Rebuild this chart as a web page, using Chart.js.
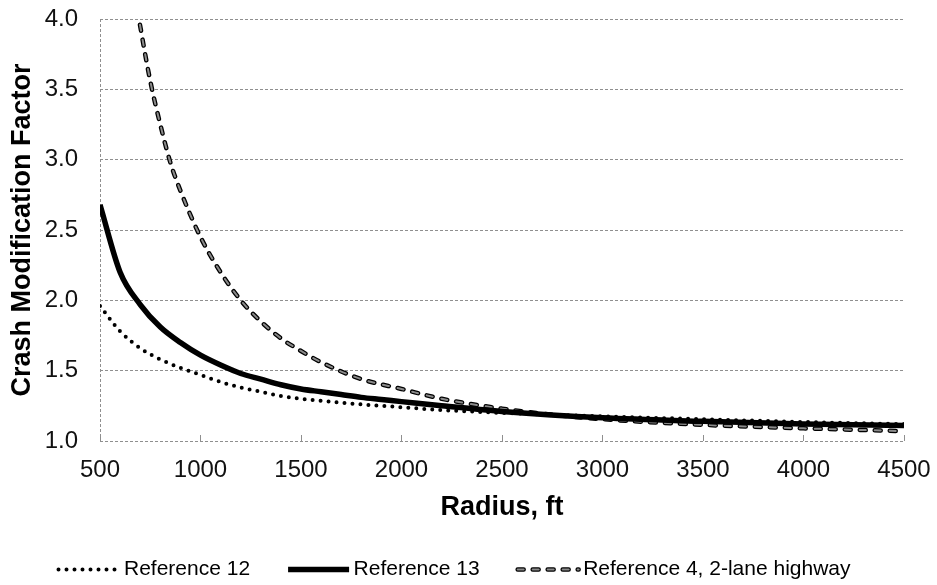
<!DOCTYPE html>
<html>
<head>
<title>Crash Modification Factor vs Radius</title>
<script src="https://cdn.jsdelivr.net/npm/chart.js"></script>
<style>
  html, body { margin: 0; padding: 0; overflow: hidden; background: #fff; }
  canvas { display: block; }
</style>
</head>
<body>
<canvas id="cmfChart" width="937" height="590"></canvas>
<script>
// values
const ref12Radius = [500, 600, 700, 800, 900, 1000, 1100, 1200, 1300, 1400, 1500, 1600, 1800, 2000, 2200, 2500, 3000, 3500, 4000, 4500];
const ref12Cmf    = [1.96, 1.78, 1.66, 1.58, 1.52, 1.47, 1.42, 1.38, 1.35, 1.32, 1.30, 1.285, 1.26, 1.24, 1.22, 1.20, 1.175, 1.155, 1.135, 1.12];

const ref13Radius = [500, 600, 700, 800, 900, 1000, 1100, 1200, 1300, 1400, 1500, 1600, 1700, 1800, 1900, 2000, 2200, 2500, 3000, 3500, 4000, 4500];
const ref13Cmf    = [2.68, 2.20, 1.97, 1.81, 1.70, 1.61, 1.54, 1.48, 1.44, 1.40, 1.37, 1.35, 1.33, 1.31, 1.295, 1.28, 1.25, 1.21, 1.165, 1.14, 1.12, 1.11];

const ref4Radius = [650, 700, 750, 800, 850, 900, 1000, 1100, 1200, 1300, 1400, 1500, 1600, 1800, 2000, 2200, 2500, 2800, 3000, 3500, 4000, 4500];
const ref4Cmf    = [4.38, 3.95, 3.56, 3.25, 2.98, 2.78, 2.45, 2.20, 2.00, 1.85, 1.73, 1.64, 1.56, 1.44, 1.37, 1.30, 1.23, 1.18, 1.155, 1.115, 1.09, 1.07];

const xTicks = [500, 1000, 1500, 2000, 2500, 3000, 3500, 4000, 4500];
const yTicks = [1.0, 1.5, 2.0, 2.5, 3.0, 3.5, 4.0];
const seriesNames = ['Reference 12', 'Reference 13', 'Reference 4, 2-lane highway'];

const pts = (xs, ys) => xs.map((x, i) => ({ x: x, y: ys[i] }));
const gridGray = '#8f8f8f';

Chart.defaults.font.family = "'Liberation Sans', Arial, sans-serif";
Chart.defaults.color = '#000';

// draws the line samples in the legend with the dataset's own dash style
// (the built-in point-style legend ignores dashes)
const legendSamples = {
    id: 'legendSamples',
    afterDraw(chart) {
        const lg = chart.legend;
        if (!lg || !lg.legendHitBoxes) return;
        const c = chart.ctx;
        lg.legendItems.forEach((item, i) => {
            const box = lg.legendHitBoxes[i];
            const y = box.top + box.height / 2;
            chart.data.datasets.forEach((ds, d) => {
                if (d !== item.datasetIndex && ds.legendOf !== item.datasetIndex) return;
                c.save();
                c.strokeStyle = ds.borderColor;
                c.lineWidth = ds.borderWidth;
                c.lineCap = ds.borderCapStyle || 'butt';
                c.setLineDash(ds.borderDash || []);
                c.beginPath();
                c.moveTo(box.left + 5, y);
                c.lineTo(box.left + 66, y);
                c.stroke();
                c.restore();
            });
        });
    }
};

const ctx = document.getElementById('cmfChart').getContext('2d');
const chart = new Chart(ctx, {
    type: 'line',
    data: {
        datasets: [
            {
                label: seriesNames[0],
                data: pts(ref12Radius, ref12Cmf),
                borderColor: '#000',
                borderWidth: 4,
                borderDash: [0, 8],
                borderCapStyle: 'round',
                cubicInterpolationMode: 'monotone',
                pointRadius: 0,
                order: 0
            },
            {
                label: seriesNames[1],
                data: pts(ref13Radius, ref13Cmf),
                borderColor: '#000',
                borderWidth: 5.5,
                cubicInterpolationMode: 'monotone',
                pointRadius: 0,
                order: 1
            },
            {
                label: seriesNames[2],
                data: pts(ref4Radius, ref4Cmf),
                borderColor: '#000',
                borderWidth: 4.5,
                borderDash: [6, 9],
                borderCapStyle: 'round',
                cubicInterpolationMode: 'monotone',
                pointRadius: 0,
                clip: 0,
                order: 3
            },
            {
                // light core of the double-stroked dashes
                label: 'overlay',
                legendOf: 2,
                data: pts(ref4Radius, ref4Cmf),
                borderColor: '#8a8a8a',
                borderWidth: 2,
                borderDash: [6, 9],
                borderCapStyle: 'round',
                cubicInterpolationMode: 'monotone',
                pointRadius: 0,
                clip: 0,
                order: 2
            }
        ]
    },
    options: {
        responsive: false,
        animation: false,
        layout: { padding: { top: 19, right: 33, left: 0, bottom: 0 } },
        plugins: {
            tooltip: { enabled: false },
            legend: {
                position: 'bottom',
                labels: {
                    boxWidth: 60,
                    boxHeight: 0,
                    padding: 33,
                    color: '#000',
                    font: { size: 21 },
                    generateLabels: c => Chart.defaults.plugins.legend.labels.generateLabels(c)
                        .filter(it => it.datasetIndex < 3)
                        .map(it => Object.assign(it, { fillStyle: 'rgba(0,0,0,0)', strokeStyle: 'rgba(0,0,0,0)', lineWidth: 0 }))
                }
            }
        },
        scales: {
            x: {
                type: 'linear',
                min: 500,
                max: 4500,
                afterBuildTicks: s => { s.ticks = xTicks.map(v => ({ value: v })); },
                afterFit: s => {
                    s.height = 590 - 441 - s.chart.legend.height;
                    s.paddingLeft = 0;
                    s.paddingRight = 0;
                },
                ticks: {
                    font: { size: 24 },
                    color: '#111',
                    padding: 21,
                    callback: v => String(v)
                },
                grid: {
                    color: c => (c.tick && c.tick.value === 500) ? gridGray : 'rgba(0,0,0,0)',
                    lineWidth: 1,
                    drawTicks: true,
                    tickLength: -6,
                    tickColor: gridGray,
                    tickWidth: 1
                },
                border: { display: false, dash: [3, 2] },
                title: {
                    display: true,
                    text: 'Radius, ft',
                    font: { size: 27, weight: 'bold' },
                    color: '#000',
                    padding: { top: 0, bottom: 2 }
                }
            },
            y: {
                min: 1,
                max: 4,
                afterBuildTicks: s => { s.ticks = yTicks.map(v => ({ value: v })); },
                afterFit: s => {
                    s.width = 100;
                    s.paddingTop = 0;
                    s.paddingBottom = 0;
                },
                ticks: {
                    font: { size: 24 },
                    color: '#111',
                    padding: 22,
                    callback: v => v.toFixed(1)
                },
                grid: {
                    color: gridGray,
                    lineWidth: 1,
                    drawTicks: false
                },
                border: { display: false, dash: [3, 2] },
                title: {
                    display: true,
                    text: 'Crash Modification Factor',
                    font: { size: 27, weight: 'bold' },
                    color: '#000',
                    padding: { top: 6, bottom: 0 }
                }
            }
        }
    },
    plugins: [legendSamples]
});
</script>
</body>
</html>
